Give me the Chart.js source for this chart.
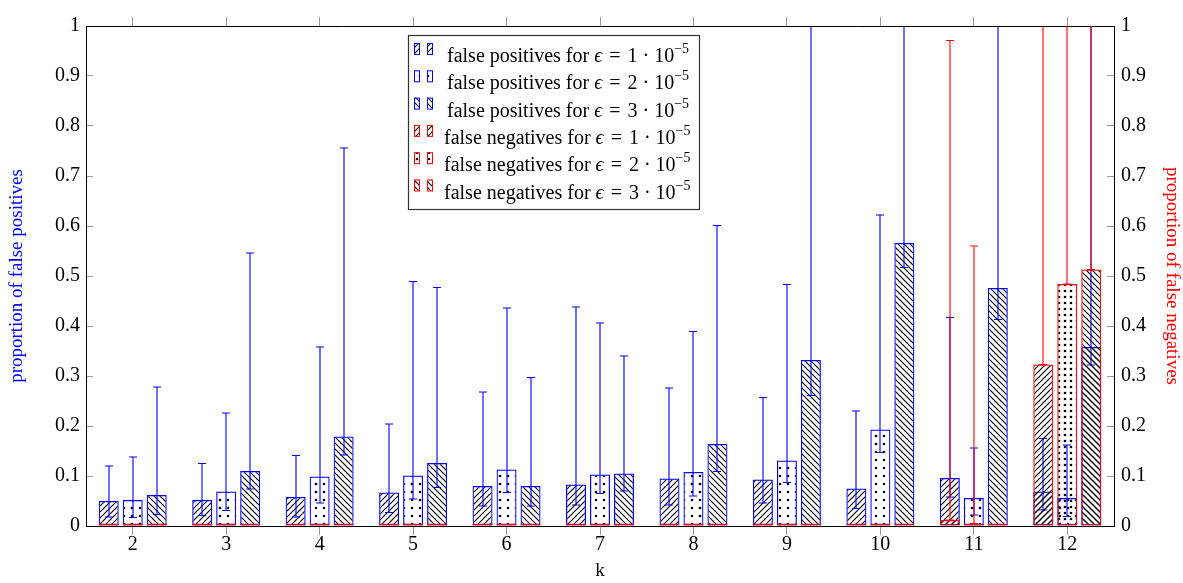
<!DOCTYPE html>
<html>
<head>
<meta charset="utf-8">
<script src="https://cdn.jsdelivr.net/npm/chart.js@4.4.1/dist/chart.umd.min.js"></script>
<style>
  html, body { margin: 0; padding: 0; background: #fff; }
  #wrap { width: 1183px; height: 583px; position: relative; }
</style>
</head>
<body>
<div id="wrap"><canvas id="chart"></canvas></div>
<script>
// --- data ---
const kLabels = ['2', '3', '4', '5', '6', '7', '8', '9', '10', '11', '12'];
const epsilons = [1, 2, 3];

// false positives (mean, lower and upper end of the error bar)
const fp1     = [0.050, 0.052, 0.058, 0.067, 0.080, 0.083, 0.095, 0.093, 0.075, 0.096, 0.069];
const fp1Low  = [0.018, 0.021, 0.018, 0.027, 0.040, 0.042, 0.042, 0.046, 0.035, 0.058, 0.032];
const fp1High = [0.120, 0.125, 0.141, 0.204, 0.268, 0.438, 0.276, 0.257, 0.230, 0.417, 0.175];

const fp2     = [0.052, 0.069, 0.099, 0.101, 0.113, 0.103, 0.108, 0.131, 0.193, 0.056, 0.056];
const fp2Low  = [0.017, 0.031, 0.046, 0.054, 0.067, 0.065, 0.060, 0.087, 0.147, 0.022, 0.019];
const fp2High = [0.138, 0.226, 0.358, 0.489, 0.436, 0.406, 0.389, 0.483, 0.622, 0.156, 0.162];

const fp3     = [0.062, 0.110, 0.179, 0.126, 0.080, 0.105, 0.164, 0.332, 0.566, 0.476, 0.358];
const fp3Low  = [0.023, 0.074, 0.142, 0.077, 0.040, 0.070, 0.109, 0.261, 0.517, 0.413, 0.322];
const fp3High = [0.278, 0.546, 0.756, 0.477, 0.297, 0.340, 0.601, 1.100, 1.100, 1.100, 1.100];

// false negatives
const fn1     = [0, 0, 0, 0, 0, 0, 0, 0, 0, 0.012, 0.323];
const fn1Low  = [0, 0, 0, 0, 0, 0, 0, 0, 0, 0.012, 0.323];
const fn1High = [0, 0, 0, 0, 0, 0, 0, 0, 0, 0.971, 1.100];

const fn2     = [0, 0, 0, 0, 0, 0, 0, 0, 0, 0.005, 0.484];
const fn2Low  = [0, 0, 0, 0, 0, 0, 0, 0, 0, 0.005, 0.484];
const fn2High = [0, 0, 0, 0, 0, 0, 0, 0, 0, 0.560, 1.100];

const fn3     = [0, 0, 0, 0, 0, 0, 0, 0, 0, 0, 0.513];
const fn3Low  = [0, 0, 0, 0, 0, 0, 0, 0, 0, 0, 0.513];
const fn3High = [0, 0, 0, 0, 0, 0, 0, 0, 0, 0, 1.100];

const BLUE = '#0000ff';
const RED = '#ff0000';
const serif = "'Liberation Serif', 'DejaVu Serif', serif";

const canvas = document.getElementById('chart');
const ctx = canvas.getContext('2d');

// --- patterns (black on transparent, like the tikz ones) ---
function hatch(dir) {
  const s = 6;
  const c = document.createElement('canvas');
  c.width = s; c.height = s;
  const g = c.getContext('2d');
  g.strokeStyle = '#000';
  g.lineWidth = 1.15;
  g.beginPath();
  if (dir === 'ne') {
    g.moveTo(0, s); g.lineTo(s, 0);
    g.moveTo(-1, 1); g.lineTo(1, -1);
    g.moveTo(s - 1, s + 1); g.lineTo(s + 1, s - 1);
  } else {
    g.moveTo(0, 0); g.lineTo(s, s);
    g.moveTo(s - 1, -1); g.lineTo(s + 1, 1);
    g.moveTo(-1, s - 1); g.lineTo(1, s + 1);
  }
  g.stroke();
  return ctx.createPattern(c, 'repeat');
}

function dots(step) {
  const c = document.createElement('canvas');
  c.width = step; c.height = step;
  const g = c.getContext('2d');
  g.fillStyle = '#000';
  g.beginPath();
  g.arc(step / 2, step / 2, 1.35, 0, Math.PI * 2);
  g.fill();
  return ctx.createPattern(c, 'repeat');
}

const patNE = hatch('ne');
const patNW = hatch('nw');
const patDotsBlue = dots(8);
const patDotsRed = dots(6);

// --- error bars, drawn right after each dataset ---
const errorBars = {
  id: 'errorBars',
  afterDatasetDraw(chart, args) {
    const ds = chart.data.datasets[args.index];
    if (!ds.errLow) return;
    const meta = args.meta;
    const yScale = chart.scales[meta.yAxisID];
    const area = chart.chartArea;
    const c = chart.ctx;
    c.save();
    c.beginPath();
    c.rect(area.left, area.top, area.right - area.left, area.bottom - area.top);
    c.clip();
    c.strokeStyle = ds.errColor;
    c.lineWidth = 1.1;
    meta.data.forEach((bar, i) => {
      const lo = ds.errLow[i], hi = ds.errHigh[i];
      if (hi <= lo) return;
      const x = Math.round(bar.x);
      const y1 = yScale.getPixelForValue(lo);
      const y2 = yScale.getPixelForValue(hi);
      c.beginPath();
      c.moveTo(x, y1); c.lineTo(x, y2);
      c.moveTo(x - 4, y1); c.lineTo(x + 4, y1);
      c.moveTo(x - 4, y2); c.lineTo(x + 4, y2);
      c.stroke();
    });
    c.restore();
  }
};

// --- legend box inside the plot ---
const legendBox = {
  id: 'legendBox',
  afterDraw(chart) {
    const c = chart.ctx;
    const bx = 408, by = 35, bw = 291, bh = 174;
    c.save();
    c.fillStyle = '#fff';
    c.fillRect(bx, by, bw, bh);
    c.strokeStyle = '#333';
    c.lineWidth = 1.2;
    c.strokeRect(bx + 0.5, by + 0.5, bw, bh);

    const sets = chart.data.datasets;
    sets.forEach((ds, i) => {
      const base = 62 + i * 27.3;
      const top = base - 19;
      [414, 427].forEach(ix => {
        c.fillStyle = ds.backgroundColor;
        c.fillRect(ix, top, 5, 11);
        c.strokeStyle = ds.borderColor;
        c.lineWidth = 1;
        c.strokeRect(ix + 0.5, top + 0.5, 5, 11);
      });
      let x = ds.kind === 'positives' ? 447 : 444;
      c.fillStyle = '#000';
      c.textBaseline = 'alphabetic';
      const seg = (t, font, dy) => {
        c.font = font;
        c.fillText(t, x, base + (dy || 0));
        x += c.measureText(t).width;
      };
      seg('false ' + ds.kind + ' for ', '20px ' + serif);
      seg('\u03F5', 'italic 20px ' + serif);
      x += 2;
      seg(' = ', '20px ' + serif);
      x += 2;
      seg(ds.eps + ' \u00B7 10', '20px ' + serif);
      seg('\u22125', '14px ' + serif, -9);
    });
    c.restore();
  }
};

// same stack id = same slot in the group; values are not summed (y scales not stacked)
function barSet(kind, eps, data, lo, hi, pattern, color, yAxis, order) {
  return {
    label: 'false ' + kind + ' for \u03F5 = ' + eps + ' \u00B7 10\u207B\u2075',
    kind, eps, data,
    errLow: lo, errHigh: hi, errColor: color,
    backgroundColor: pattern,
    borderColor: color,
    borderWidth: 1.2,
    borderSkipped: false,
    minBarLength: kind === 'negatives' ? 2.5 : 0,
    stack: 'eps' + eps,
    xAxisID: 'x', yAxisID: yAxis,
    order,
    categoryPercentage: 0.77,
    barPercentage: 0.833
  };
}

const tickFont = { family: serif, size: 20 };
const titleFont = { family: serif, size: 19 };
const tickGrid = { display: true, offset: false, drawOnChartArea: false, drawTicks: true, tickLength: 9, color: '#999' };
const yGrid = { display: true, drawOnChartArea: false, drawTicks: true, tickLength: -7, color: '#999' };
const frame = { display: true, color: '#000', width: 1 };
const fmt = v => String(Number(v.toFixed(2)));

new Chart(ctx, {
  type: 'bar',
  data: {
    labels: kLabels,
    datasets: [
      barSet('positives', epsilons[0], fp1, fp1Low, fp1High, patNE, BLUE, 'y', 2),
      barSet('positives', epsilons[1], fp2, fp2Low, fp2High, patDotsBlue, BLUE, 'y', 2),
      barSet('positives', epsilons[2], fp3, fp3Low, fp3High, patNW, BLUE, 'y', 2),
      barSet('negatives', epsilons[0], fn1, fn1Low, fn1High, patNE, RED, 'y2', 1),
      barSet('negatives', epsilons[1], fn2, fn2Low, fn2High, patDotsRed, RED, 'y2', 1),
      barSet('negatives', epsilons[2], fn3, fn3Low, fn3High, patNW, RED, 'y2', 1)
    ]
  },
  options: {
    responsive: true,
    maintainAspectRatio: false,
    devicePixelRatio: 1,
    animation: false,
    layout: { padding: 0 },
    plugins: { legend: { display: false }, tooltip: { enabled: false } },
    scales: {
      x: {
        type: 'category', labels: kLabels, offset: true, position: 'bottom',
        grid: tickGrid, border: frame,
        ticks: { font: tickFont, color: '#000', padding: -2, maxRotation: 0 },
        title: { display: true, text: 'k', font: titleFont, color: '#000', padding: { top: 0, bottom: 1 } },
        afterFit(s) { s.height = 57; }
      },
      xTop: {
        type: 'category', labels: kLabels, offset: true, position: 'top',
        grid: tickGrid, border: frame,
        ticks: { display: false },
        afterFit(s) { s.height = 12; }
      },
      y: {
        position: 'left', min: 0, max: 1, stacked: false,
        grid: yGrid, border: frame,
        ticks: { stepSize: 0.1, font: tickFont, color: '#000', padding: 13, callback: fmt },
        title: { display: true, text: 'proportion of false positives', color: BLUE, font: titleFont, padding: { top: 6, bottom: 0 } },
        afterFit(s) { s.width = 86; }
      },
      y2: {
        position: 'right', min: 0, max: 1, stacked: false,
        grid: yGrid, border: frame,
        ticks: { stepSize: 0.1, font: tickFont, color: '#000', padding: 14, callback: fmt },
        title: { display: true, text: 'proportion of false negatives', color: RED, font: titleFont, padding: { top: 0, bottom: 0 } },
        afterFit(s) { s.width = 69; }
      }
    }
  },
  plugins: [errorBars, legendBox]
});
</script>
</body>
</html>
